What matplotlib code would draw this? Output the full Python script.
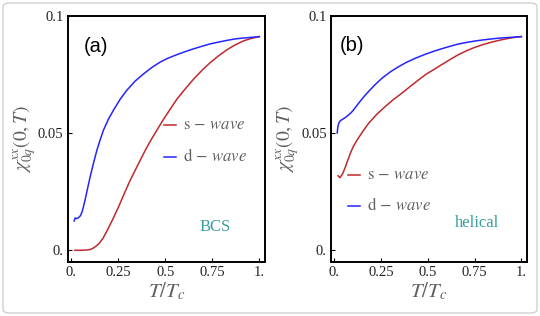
import matplotlib
matplotlib.use("Agg")
import matplotlib.pyplot as plt
from matplotlib.patches import FancyBboxPatch

plt.rcParams['mathtext.fontset'] = 'stix'
plt.rcParams['font.family'] = ['Liberation Serif', 'DejaVu Serif']

# ---- data ----
x_ticks = [0.0, 0.25, 0.5, 0.75, 1.0]
x_tick_labels = ["0.", "0.25", "0.5", "0.75", "1."]
y_ticks = [0.0, 0.05, 0.1]
y_tick_labels = ["0.", "0.05", "0.1"]

# (a) BCS
s_a_T = [0.02, 0.05, 0.08, 0.1, 0.115, 0.13, 0.15, 0.17, 0.19, 0.22, 0.252, 0.283,
         0.314, 0.35, 0.385, 0.42, 0.456, 0.49, 0.527, 0.562, 0.6, 0.651, 0.7, 0.739,
         0.785, 0.828, 0.87, 0.916, 0.96, 1.0]
s_a_chi = [0.0, 0.0, 0.0001, 0.0003, 0.0008, 0.0016, 0.003, 0.0052, 0.0082, 0.013,
           0.0185, 0.0243, 0.0299, 0.0357, 0.0413, 0.0465, 0.0513, 0.0558, 0.0603,
           0.0645, 0.0683, 0.0731, 0.0772, 0.0801, 0.0831, 0.0856, 0.0876, 0.0894,
           0.0905, 0.0912]
d_a_T = [0.016, 0.022, 0.03, 0.039, 0.05, 0.06, 0.074, 0.087, 0.101, 0.12, 0.137,
         0.155, 0.172, 0.198, 0.225, 0.26, 0.296, 0.34, 0.385, 0.43, 0.473, 0.509,
         0.565, 0.61, 0.651, 0.7, 0.739, 0.785, 0.828, 0.87, 0.916, 0.96, 1.0]
d_a_chi = [0.0125, 0.0138, 0.0135, 0.0139, 0.0148, 0.0168, 0.0214, 0.0262, 0.0313,
           0.0375, 0.0427, 0.0473, 0.0513, 0.0559, 0.0598, 0.0644, 0.0683, 0.0722,
           0.0753, 0.0781, 0.0803, 0.0818, 0.0836, 0.0849, 0.086, 0.0872, 0.0881,
           0.0889, 0.0896, 0.0902, 0.0906, 0.0909, 0.0912]

# (b) helical
s_b_T = [0.02, 0.03, 0.045, 0.059, 0.072, 0.085, 0.1, 0.121, 0.15, 0.182, 0.225,
         0.271, 0.315, 0.36, 0.405, 0.448, 0.49, 0.537, 0.573, 0.62, 0.661, 0.705,
         0.75, 0.795, 0.839, 0.885, 0.927, 0.965, 1.0]
s_b_chi = [0.0318, 0.031, 0.0328, 0.0356, 0.0385, 0.0413, 0.0441, 0.047, 0.0505,
           0.0541, 0.0579, 0.0613, 0.0643, 0.067, 0.0699, 0.0726, 0.0751, 0.0774,
           0.0792, 0.0815, 0.0834, 0.0851, 0.0866, 0.0878, 0.0888, 0.0897, 0.0904,
           0.0909, 0.0912]
d_b_T = [0.015, 0.019, 0.023, 0.03, 0.037, 0.048, 0.059, 0.075, 0.094, 0.11, 0.129,
         0.155, 0.182, 0.218, 0.254, 0.3, 0.342, 0.385, 0.431, 0.484, 0.537, 0.573,
         0.62, 0.661, 0.705, 0.75, 0.795, 0.839, 0.885, 0.927, 0.965, 1.0]
d_b_chi = [0.0501, 0.0528, 0.0541, 0.0551, 0.0556, 0.0561, 0.0567, 0.0577, 0.0591,
           0.0607, 0.0627, 0.0653, 0.0677, 0.0707, 0.0734, 0.0762, 0.0783, 0.0802,
           0.0819, 0.0836, 0.0851, 0.086, 0.0871, 0.088, 0.0887, 0.0893, 0.0898,
           0.0902, 0.0906, 0.0908, 0.091, 0.0912]

panels = [
    dict(label="(a)", tag="BCS", s=(s_a_T, s_a_chi), d=(d_a_T, d_a_chi),
         pos=[67.7 / 540, 1 - 262 / 316, 197.3 / 540, 246 / 316],
         leg_x=(0.487, 0.548, 0.585), leg_y=(0.557, 0.427),
         lab_xy=(0.141, 0.874), tag_xy=(0.749, 0.142)),
    dict(label="(b)", tag="helical", s=(s_b_T, s_b_chi), d=(d_b_T, d_b_chi),
         pos=[331 / 540, 1 - 262 / 316, 196 / 540, 246 / 316],
         leg_x=(0.085, 0.146, 0.183), leg_y=(0.354, 0.228),
         lab_xy=(0.105, 0.882), tag_xy=(0.747, 0.159)),
]

red = '#c0282d'
blue = '#2424ff'
gray = '#606060'
teal = '#3a9e9e'

fig = plt.figure(figsize=(5.4, 3.16), dpi=100)
fig.patch.set_facecolor('white')
border = FancyBboxPatch((3 / 540, 3 / 316), 534 / 540, 310 / 316,
                        boxstyle="round,pad=0,rounding_size=0.012",
                        transform=fig.transFigure, facecolor='none',
                        edgecolor='#d0d0d0', linewidth=1.0)
fig.patches.append(border)

for p in panels:
    ax = fig.add_axes(p['pos'])
    ax.plot(p['s'][0], p['s'][1], color=red, lw=1.1)
    ax.plot(p['d'][0], p['d'][1], color=blue, lw=1.1)
    ax.set_xlim(-0.018, 1.03)
    ax.set_ylim(-0.005, 0.1)
    ax.set_xticks(x_ticks)
    ax.set_xticklabels(x_tick_labels)
    ax.set_yticks(y_ticks)
    ax.set_yticklabels(y_tick_labels)
    ax.tick_params(direction='in', length=3, width=0.8, labelsize=10.5,
                   labelcolor='#222222', pad=3)
    for sp in ax.spines.values():
        sp.set_linewidth(1.4)
    ax.set_xlabel(r"$T/T_c$", fontsize=15, color=gray, labelpad=1)
    ax.set_ylabel(r"$\chi^{xx}_{0q}(0,T)$", fontsize=14, color=gray, labelpad=0)
    ax.text(p['lab_xy'][0], p['lab_xy'][1], p['label'], transform=ax.transAxes,
            fontsize=14.5, family='Liberation Sans', ha='center', va='center')
    x0, x1, xt = p['leg_x']
    for yy, col, name in zip(p['leg_y'], (red, blue), ("s", "d")):
        ax.plot([x0, x1], [yy, yy], transform=ax.transAxes, color=col, lw=1.1)
        ax.text(xt, yy, r"$\mathrm{%s}\,-\,wave$" % name, transform=ax.transAxes,
                fontsize=12, color=gray, ha='left', va='center')
    ax.text(p['tag_xy'][0], p['tag_xy'][1], p['tag'], transform=ax.transAxes,
            fontsize=12, color=teal, ha='center', va='center')

fig.savefig("out.png", dpi=100)
